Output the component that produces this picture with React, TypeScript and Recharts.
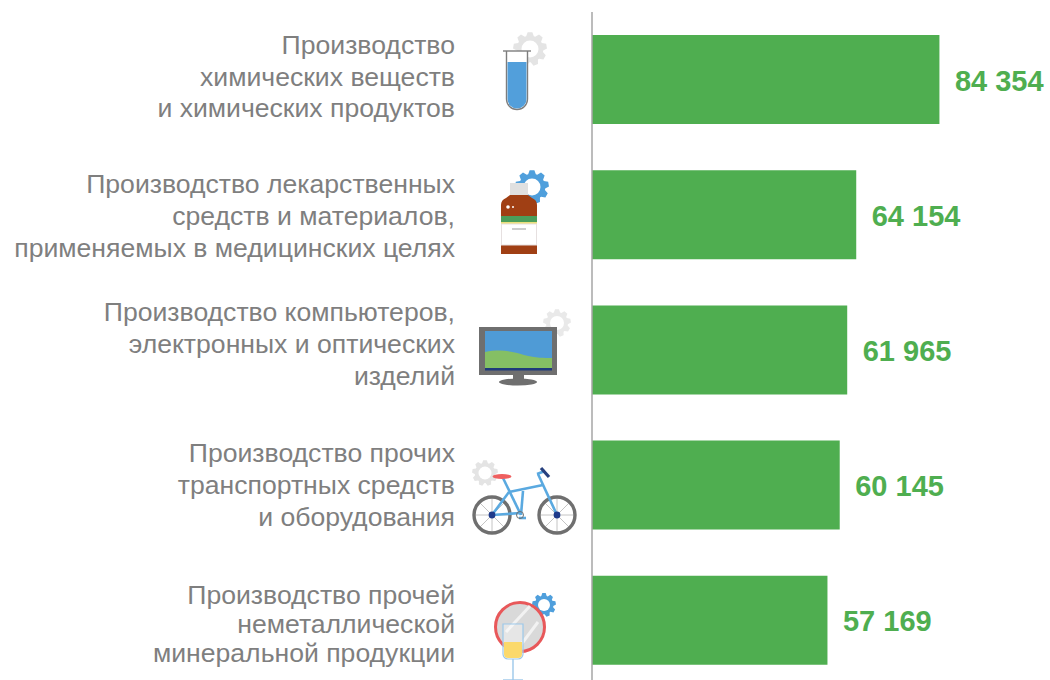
import React from "react";
import { BarChart, Bar, XAxis, YAxis, LabelList } from "recharts";

const categories: string[] = ["chem", "pharma", "computers", "transport", "mineral"];
const values: number[] = [84354, 64154, 61965, 60145, 57169];
const valueLabels: string[] = ["84 354", "64 154", "61 965", "60 145", "57 169"];
const labelLines: string[][] = [
  ["Производство", "химических веществ", "и химических продуктов"],
  ["Производство лекарственных", "средств и материалов,", "применяемых в медицинских целях"],
  ["Производство компьютеров,", "электронных и оптических", "изделий"],
  ["Производство прочих", "транспортных средств", "и оборудования"],
  ["Производство прочей", "неметаллической", "минеральной продукции"],
];

const rows = categories.map((name, i) => ({ name, value: values[i], label: valueLabels[i] }));

const GREEN = "#4fae50";
const FONT = '"Liberation Sans", Arial, sans-serif';
const LINE_Y: number[][] = [
  [54, 86, 117],
  [193, 225, 257],
  [321, 353, 385],
  [462, 494, 526],
  [604, 633, 662],
];

function Gear({ cx, cy, r, color, teeth = 9 }: { cx: number; cy: number; r: number; color: string; teeth?: number }) {
  const pts: string[] = [];
  const step = (Math.PI * 2) / teeth;
  for (let i = 0; i < teeth; i++) {
    const a = i * step - Math.PI / 2;
    const corners: [number, number][] = [
      [a - step * 0.42, r * 0.78],
      [a - step * 0.2, r],
      [a + step * 0.2, r],
      [a + step * 0.42, r * 0.78],
    ];
    corners.forEach(([an, rad]) => pts.push(`${cx + rad * Math.cos(an)},${cy + rad * Math.sin(an)}`));
  }
  return (
    <g>
      <polygon points={pts.join(" ")} fill={color} />
      <circle cx={cx} cy={cy} r={r * 0.5} fill="#fff" />
    </g>
  );
}

function TubeIcon() {
  return (
    <g>
      <Gear cx={530} cy={49} r={17} color="#e4e4e4" />
      <path d="M506.5 51 V99 a10.5 10.5 0 0 0 21 0 V51" fill="#fff" stroke="#7d7d7d" strokeWidth={1.4} />
      <path d="M507.5 62 H526.5 V99 a9.5 9.5 0 0 1 -19 0 Z" fill="#529fdb" />
      <line x1={503} y1={51} x2={531} y2={51} stroke="#7d7d7d" strokeWidth={1.4} />
    </g>
  );
}

function BottleIcon() {
  return (
    <g>
      <Gear cx={532} cy={187} r={17} color="#4f9fdc" />
      <rect x={510} y={183} width={18} height={13} fill="#e0e0e0" />
      <path d="M501 205 Q501 200 506 198 L510 195 H528 L532 198 Q537 200 537 205 V254 H501 Z" fill="#a03f14" />
      <rect x={501} y={216} width={36} height={6} fill="#4b9e5b" />
      <rect x={501} y={222} width={36} height={2} fill="#eadf7d" />
      <rect x={501.5} y={224} width={35} height={21} fill="#fff" stroke="#e6e0e0" strokeWidth={1} />
      <line x1={512} y1={229} x2={526} y2={229} stroke="#999" strokeWidth={1} />
      <circle cx={508} cy={207} r={1.8} fill="#fff" />
      <circle cx={513} cy={207} r={1} fill="#fff" />
    </g>
  );
}

function MonitorIcon() {
  return (
    <g>
      <Gear cx={557} cy={323} r={14} color="#e9e9e9" />
      <rect x={479} y={327} width={78} height={48} fill="#6f6f6f" />
      <rect x={485} y={331} width={67} height={38} fill="#4f9bd6" />
      <path d="M485 352 C500 349 512 351 524 355 C536 358 544 358 552 358 V368 H485 Z" fill="#85bf64" />
      <rect x={485} y={368} width={67} height={2.5} fill="#1f3a7a" />
      <rect x={513} y={375} width={11} height={6} fill="#6f6f6f" />
      <ellipse cx={518} cy={382} rx={19} ry={3.5} fill="#6f6f6f" />
    </g>
  );
}

function BikeIcon() {
  const hubs: [number, number][] = [[492, 515], [557, 515]];
  return (
    <g>
      <Gear cx={485} cy={473} r={13} color="#e4e4e4" />
      {hubs.map(([x, y]) => (
        <g key={x}>
          <line x1={x - 18} y1={y} x2={x + 18} y2={y} stroke="#c4c4c4" strokeWidth={1} />
          <line x1={x} y1={y - 18} x2={x} y2={y + 18} stroke="#c4c4c4" strokeWidth={1} />
          <line x1={x - 13} y1={y - 13} x2={x + 13} y2={y + 13} stroke="#c4c4c4" strokeWidth={1} />
          <line x1={x - 13} y1={y + 13} x2={x + 13} y2={y - 13} stroke="#c4c4c4" strokeWidth={1} />
          <circle cx={x} cy={y} r={18} fill="none" stroke="#6f6f6f" strokeWidth={3.4} />
        </g>
      ))}
      <g stroke="#5aa9e0" strokeWidth={2.6} fill="none">
        <line x1={503} y1={478} x2={521} y2={515} />
        <line x1={509} y1={492} x2={543} y2={485} />
        <line x1={509} y1={492} x2={492} y2={515} />
        <line x1={492} y1={515} x2={521} y2={513} />
        <line x1={523} y1={491} x2={521} y2={515} />
        <line x1={538} y1={474} x2={557} y2={515} />
        <line x1={537} y1={474} x2={545} y2={471} />
        <line x1={519} y1={518} x2={526} y2={518} />
      </g>
      <circle cx={520} cy={515} r={3.5} fill="none" stroke="#6f6f6f" strokeWidth={1} />
      <ellipse cx={502} cy={476.5} rx={9.5} ry={2.6} fill="#ef6060" />
      <line x1={541} y1={468} x2={549} y2={477} stroke="#27407e" strokeWidth={3.2} />
      <circle cx={492} cy={515} r={3.4} fill="#1f3a8a" />
      <circle cx={557} cy={515} r={3.4} fill="#1f3a8a" />
    </g>
  );
}

function GlassIcon() {
  return (
    <g>
      <Gear cx={544} cy={605} r={12} color="#4f9fdc" />
      <circle cx={520} cy={627} r={24.5} fill="#d9d9d9" stroke="#e8585a" strokeWidth={3} />
      <line x1={506} y1={632} x2={530} y2={606} stroke="#f2f2f2" strokeWidth={3} />
      <line x1={520} y1={646} x2={538} y2={622} stroke="#f2f2f2" strokeWidth={3} />
      <path d="M503 624 H523 V654 a5 5 0 0 1 -5 5 H508 a5 5 0 0 1 -5 -5 Z" fill="#ffffff" fillOpacity={0.35} stroke="#9cc8ea" strokeWidth={1.2} />
      <path d="M504 642 H522 V654 a4 4 0 0 1 -4 4 H508 a4 4 0 0 1 -4 -4 Z" fill="#fbd96b" />
      <line x1={513} y1={659} x2={513} y2={680} stroke="#9cc8ea" strokeWidth={1.4} />
      <line x1={503} y1={680} x2={523} y2={680} stroke="#9cc8ea" strokeWidth={1.4} />
    </g>
  );
}

const ICONS = [TubeIcon, BottleIcon, MonitorIcon, BikeIcon, GlassIcon];

function CategoryTick(props: any) {
  const i = categories.indexOf(props.payload.value);
  const Icon = ICONS[i];
  return (
    <g>
      {labelLines[i].map((line, k) => (
        <text key={k} x={455} y={LINE_Y[i][k]} textAnchor="end" fontFamily={FONT} fontSize={26.6} fill="#7f7f7f">
          {line}
        </text>
      ))}
      <Icon />
    </g>
  );
}

function ValueLabel(props: any) {
  const { x, y, width, height, value } = props;
  return (
    <text x={x + width + 15.5} y={y + height / 2 + 11} fill={GREEN} fontFamily={FONT} fontWeight={700} fontSize={29}>
      {value}
    </text>
  );
}

export default function App() {
  return (
    <div style={{ position: "absolute", left: 0, top: 0, width: 1050, height: 680, overflow: "hidden", background: "#fff" }}>
      <BarChart
        width={1050}
        height={688}
        data={rows}
        layout="vertical"
        barCategoryGap={23}
        margin={{ top: 12, right: 0, bottom: 0, left: 0 }}
      >
        <XAxis type="number" hide domain={[0, 111200]} />
        <YAxis
          type="category"
          dataKey="name"
          width={592}
          interval={0}
          tickLine={false}
          axisLine={{ stroke: "#a6a6a6", strokeWidth: 1.5 }}
          tick={(p: any) => <CategoryTick {...p} />}
        />
        <Bar dataKey="value" fill={GREEN} barSize={89} isAnimationActive={false}>
          <LabelList dataKey="label" content={(p: any) => <ValueLabel {...p} />} />
        </Bar>
      </BarChart>
    </div>
  );
}
